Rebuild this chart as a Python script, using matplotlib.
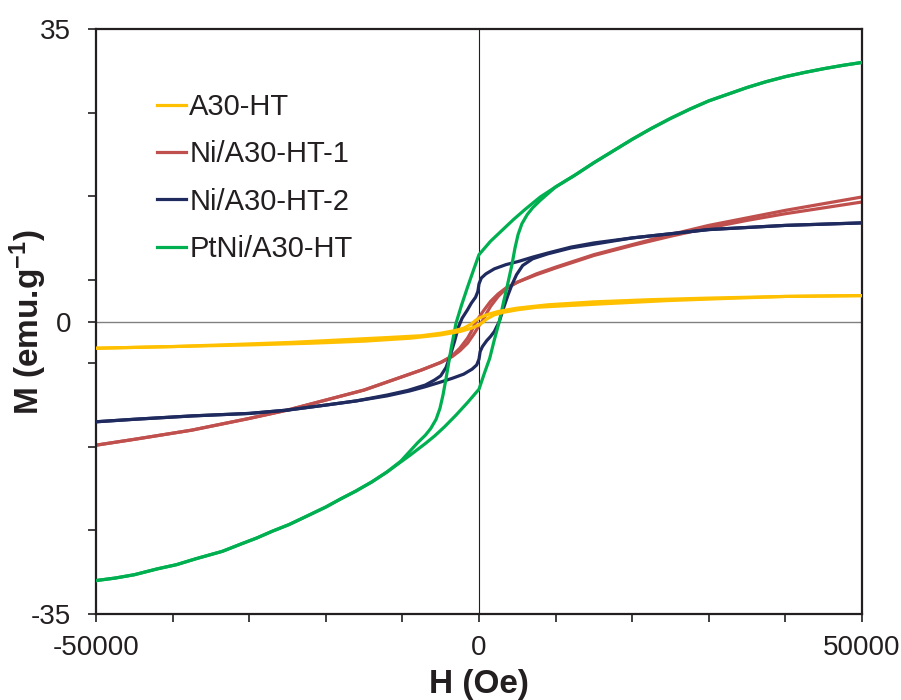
import numpy as np
import matplotlib
matplotlib.use("Agg")
import matplotlib.pyplot as plt

plt.rcParams['font.family'] = ['Liberation Sans', 'DejaVu Sans']
plt.rcParams['mathtext.default'] = 'regular'

# ---------- data ----------
labels = ['A30-HT', 'Ni/A30-HT-1', 'Ni/A30-HT-2', 'PtNi/A30-HT']
colors = ['#FFC000', '#C0504D', '#1F2A5E', '#00B050']

# A30-HT
a30_h_down = [50000, 40000, 30000, 22000, 15000, 9000, 5000, 2500, 1000, 0, -500, -1000,
              -2000, -3200, -5000, -7500, -11500, -18000, -24500, -32000, -40000, -50000]
a30_m_down = [3.1, 3.0, 2.8, 2.6, 2.35, 2.0, 1.6, 1.2, 0.8, 0.4, 0.1, -0.3,
              -0.8, -1.1, -1.4, -1.7, -1.9, -2.2, -2.5, -2.75, -3.0, -3.2]
a30_h_up = [-50000, -40000, -30000, -22000, -15000, -9000, -5000, -2500, -1000, 0, 500, 1000,
            2000, 3200, 5000, 7500, 11500, 18000, 24500, 32000, 40000, 50000]
a30_m_up = [-3.2, -3.0, -2.8, -2.6, -2.35, -2.0, -1.6, -1.2, -0.8, -0.4, -0.1, 0.3,
            0.8, 1.1, 1.4, 1.7, 1.9, 2.2, 2.5, 2.75, 3.0, 3.1]

# Ni/A30-HT-1
ni1_h_down = [50000, 45000, 40000, 35000, 30000, 25000, 20000, 15000, 10000, 7500, 5000, 3500,
              2500, 1500, 600, 0, -400, -1000, -1500, -2500, -3500, -5000, -7500, -10000,
              -15000, -20000, -25000, -30000, -37500, -45000, -50000]
ni1_m_down = [14.9, 14.1, 13.3, 12.4, 11.5, 10.4, 9.2, 8.0, 6.5, 5.7, 4.7, 4.0,
              3.3, 2.4, 1.3, 0.5, 0.0, -1.2, -2.0, -3.2, -4.1, -4.9, -5.8, -6.6,
              -8.2, -9.4, -10.6, -11.6, -13.0, -14.1, -14.8]
ni1_h_up = [-50000, -45000, -37500, -30000, -25000, -20000, -15000, -10000, -7500, -5000, -3500,
            -2500, -1500, -600, 0, 400, 1000, 1500, 2500, 3500, 5000, 7500, 10000, 15000,
            20000, 25000, 30000, 35000, 40000, 45000, 50000]
ni1_m_up = [-14.8, -14.1, -13.0, -11.6, -10.6, -9.4, -8.2, -6.6, -5.8, -4.9, -4.2,
            -3.5, -2.6, -1.4, -0.5, 0.0, 1.0, 1.8, 3.0, 3.9, 4.7, 5.6, 6.4, 7.9,
            9.1, 10.2, 11.2, 12.1, 12.9, 13.6, 14.3]

# Ni/A30-HT-2
ni2_h_down = [50000, 40000, 30000, 25000, 20000, 15000, 12000, 9000, 7000, 5200, 3500, 2000,
              900, 300, 0, -150, -450, -1000, -1500, -2200, -2700, -3200, -3800, -4300,
              -5000, -5800, -7000, -9300, -12000, -16000, -20000, -25000, -30000, -37500,
              -45000, -50000]
ni2_m_down = [11.8, 11.5, 11.0, 10.5, 10.0, 9.4, 8.9, 8.2, 7.7, 7.2, 6.8, 6.3,
              5.7, 5.2, 4.5, 3.6, 2.9, 2.2, 1.4, 0.4, -0.7, -2.4, -4.2, -5.5,
              -6.5, -7.0, -7.6, -8.25, -8.8, -9.5, -10.0, -10.6, -11.0, -11.3,
              -11.7, -12.0]
ni2_h_up = [-50000, -45000, -37500, -30000, -25000, -20000, -16000, -12000, -9000, -7000,
            -5200, -3500, -2000, -900, -300, 0, 150, 450, 1000, 1500, 2000, 2650, 3200,
            3800, 4300, 4900, 5700, 7000, 9000, 12000, 16000, 20000, 25000, 30000,
            40000, 50000]
ni2_m_up = [-12.0, -11.7, -11.3, -11.0, -10.6, -10.0, -9.5, -8.9, -8.3, -7.8,
            -7.3, -6.8, -6.3, -5.7, -5.2, -4.5, -3.6, -3.0, -2.3, -1.8, -1.2, 0.0, 1.6,
            3.2, 4.4, 5.6, 6.7, 7.5, 8.1, 8.8, 9.4, 10.0, 10.5, 11.0,
            11.5, 11.8]

# PtNi/A30-HT
ptni_h_down = [50000, 47500, 45000, 42500, 40000, 37500, 35000, 32500, 30000, 27500, 25000,
               22500, 20000, 17500, 15000, 12500, 10000, 8000, 6000, 4500, 3000, 1500, 0,
               -700, -1500, -2300, -3000, -3650, -4300, -4700, -5100, -5600, -6300, -7000,
               -8000, -9000, -10200, -12000, -14000, -16100, -18000, -20000, -22500, -24800,
               -27000, -29000, -31000, -33500, -37000, -39500, -42000, -45000, -47500, -50000]
ptni_m_down = [31.0, 30.65, 30.25, 29.8, 29.3, 28.7, 28.0, 27.2, 26.4, 25.4, 24.3,
               23.1, 21.8, 20.4, 19.0, 17.5, 16.1, 14.9, 13.4, 12.2, 10.9, 9.6, 8.0,
               6.2, 4.1, 1.9, -0.2, -3.3, -6.8, -8.8, -10.4, -11.7, -12.8, -13.6,
               -14.5, -15.5, -16.7, -18.0, -19.2, -20.3, -21.2, -22.2, -23.3, -24.3,
               -25.1, -25.9, -26.6, -27.5, -28.4, -29.1, -29.6, -30.3, -30.7, -31.0]
ptni_h_up = [-50000, -47500, -45000, -42000, -39500, -37000, -33500, -31000, -29000, -27000,
             -24800, -22500, -20000, -18000, -16100, -14000, -12000, -10200, -9000, -8000,
             -7000, -5800, -4500, -3000, -1500, 0, 700, 1400, 2000, 2650, 3200, 3700, 4300,
             4700, 5100, 5600, 6300, 7000, 8000, 9000, 10000, 12500, 15000, 17500, 20000,
             22500, 25000, 27500, 30000, 32500, 35000, 37500, 40000, 42500, 45000, 47500, 50000]
ptni_m_up = [-31.0, -30.7, -30.3, -29.6, -29.1, -28.4, -27.5, -26.6, -25.9, -25.1,
             -24.3, -23.3, -22.2, -21.2, -20.3, -19.2, -18.0, -16.8, -16.0, -15.3,
             -14.6, -13.7, -12.6, -11.2, -9.7, -8.1, -6.2, -4.4, -2.2, 0.0, 2.3, 4.3, 6.8,
             8.8, 10.4, 11.7, 12.8, 13.6, 14.5, 15.3, 16.1, 17.5, 19.0, 20.4, 21.8,
             23.1, 24.3, 25.4, 26.4, 27.2, 28.0, 28.7, 29.3, 29.8, 30.25, 30.65, 31.0]

loops = [(a30_h_down, a30_m_down, a30_h_up, a30_m_up),
         (ni1_h_down, ni1_m_down, ni1_h_up, ni1_m_up),
         (ni2_h_down, ni2_m_down, ni2_h_up, ni2_m_up),
         (ptni_h_down, ptni_m_down, ptni_h_up, ptni_m_up)]

x_ticks = list(range(-50000, 50001, 10000))
x_ticklabels = ['-50000', '', '', '', '', '0', '', '', '', '', '50000']
y_ticks = [-35, -25, -15, -5, 0, 5, 15, 25, 35]
y_ticklabels = ['-35', '', '', '', '0', '', '', '', '35']

# ---------- plot ----------
fig = plt.figure(figsize=(9.01, 7.0), dpi=100)
ax = fig.add_axes([96 / 901, 1 - 614 / 700, 766 / 901, 585 / 700])

ax.axhline(0, color='#808080', lw=1.0, zorder=1)
ax.axvline(0, color='#231F20', lw=0.8, zorder=1)

zorders = [5, 2, 3, 4]
for (hd, md, hu, mu), col, lab, z in zip(loops, colors, labels, zorders):
    ax.plot(hd, md, color=col, lw=2.3, label=lab, zorder=z, solid_joinstyle='round')
    ax.plot(hu, mu, color=col, lw=2.3, zorder=z, solid_joinstyle='round')

ax.set_xlim(-50000, 50000)
ax.set_ylim(-35, 35)
ax.set_xticks(x_ticks)
ax.set_xticklabels(x_ticklabels)
ax.set_yticks(y_ticks)
ax.set_yticklabels(y_ticklabels)
ax.tick_params(axis='both', direction='out', length=6, width=1.2, colors='#231F20',
               labelsize=20, labelcolor='#231F20')
ax.tick_params(axis='x', pad=9)
ax.tick_params(axis='y', pad=12)
for sp in ax.spines.values():
    sp.set_linewidth(1.6)
    sp.set_color('#231F20')

ax.set_xlabel('H (Oe)', fontsize=24, fontweight='bold', color='#231F20')
ax.xaxis.set_label_coords(0.5, (614 - 684) / 585)
ax.xaxis.label.set_va('center')
ax.set_ylabel('M (emu.g$^{-1}$)', fontsize=24, fontweight='bold', color='#231F20')
ax.yaxis.set_label_coords((28 - 96) / 766, (614 - 322) / 585)
ax.yaxis.label.set_va('center')

leg = ax.legend(loc='upper left', bbox_to_anchor=(157 / 901, 1 - 93 / 700),
                bbox_transform=fig.transFigure, frameon=False, fontsize=21,
                handlelength=1.0, handletextpad=0.11, labelspacing=0.66,
                borderpad=0, borderaxespad=0)
for t in leg.get_texts():
    t.set_color('#231F20')

fig.savefig('out.png', dpi=100)
